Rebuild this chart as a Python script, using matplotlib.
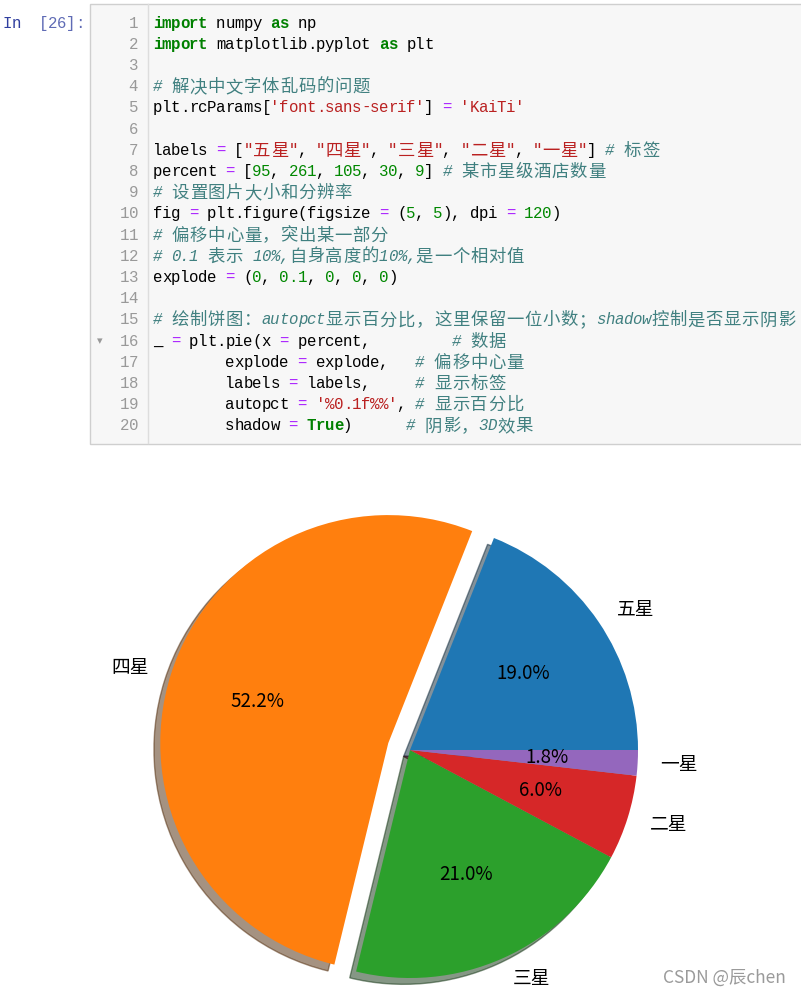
import unicodedata
import matplotlib
matplotlib.use("Agg")
import matplotlib.pyplot as plt
from matplotlib.patches import Rectangle

# ---------------- data ----------------
labels = ["五星", "四星", "三星", "二星", "一星"]
percent = [95, 261, 105, 30, 9]
explode = (0, 0.1, 0, 0, 0)

code_lines = [
    [("import", "kw"), (" numpy ", "n"), ("as", "kw"), (" np", "n")],
    [("import", "kw"), (" matplotlib.pyplot ", "n"), ("as", "kw"), (" plt", "n")],
    [],
    [("# 解决中文字体乱码的问题", "cm")],
    [("plt.rcParams[", "n"), ("'font.sans-serif'", "str"), ("] ", "n"), ("=", "op"), (" ", "n"), ("'KaiTi'", "str")],
    [],
    [("labels ", "n"), ("=", "op"), (" [", "n"), ('"五星"', "str"), (", ", "n"), ('"四星"', "str"), (", ", "n"),
     ('"三星"', "str"), (", ", "n"), ('"二星"', "str"), (", ", "n"), ('"一星"', "str"), ("] ", "n"), ("# 标签", "cm")],
    [("percent ", "n"), ("=", "op"), (" [", "n"), ("95", "num"), (", ", "n"), ("261", "num"), (", ", "n"),
     ("105", "num"), (", ", "n"), ("30", "num"), (", ", "n"), ("9", "num"), ("] ", "n"), ("# 某市星级酒店数量", "cm")],
    [("# 设置图片大小和分辨率", "cm")],
    [("fig ", "n"), ("=", "op"), (" plt.figure(figsize ", "n"), ("=", "op"), (" (", "n"), ("5", "num"), (", ", "n"),
     ("5", "num"), ("), dpi ", "n"), ("=", "op"), (" ", "n"), ("120", "num"), (")", "n")],
    [("# 偏移中心量，突出某一部分", "cm")],
    [("# 0.1 表示 10%,自身高度的10%,是一个相对值", "cm")],
    [("explode ", "n"), ("=", "op"), (" (", "n"), ("0", "num"), (", ", "n"), ("0.1", "num"), (", ", "n"),
     ("0", "num"), (", ", "n"), ("0", "num"), (", ", "n"), ("0", "num"), (")", "n")],
    [],
    [("# 绘制饼图：autopct显示百分比，这里保留一位小数；shadow控制是否显示阴影", "cm")],
    [("_ ", "n"), ("=", "op"), (" plt.pie(x ", "n"), ("=", "op"), (" percent,", "n"), ("         ", "n"), ("# 数据", "cm")],
    [("        explode ", "n"), ("=", "op"), (" explode,", "n"), ("   ", "n"), ("# 偏移中心量", "cm")],
    [("        labels ", "n"), ("=", "op"), (" labels,", "n"), ("     ", "n"), ("# 显示标签", "cm")],
    [("        autopct ", "n"), ("=", "op"), (" ", "n"), ("'%0.1f%%'", "str"), (",", "n"), (" ", "n"), ("# 显示百分比", "cm")],
    [("        shadow ", "n"), ("=", "op"), (" ", "n"), ("True", "kw"), (")", "n"), ("      ", "n"), ("# 阴影，3D效果", "cm")],
]

styles = {
    "kw": dict(color="#008000", weight="bold", style="normal"),
    "n": dict(color="#000000", weight="normal", style="normal"),
    "op": dict(color="#AA22FF", weight="normal", style="normal"),
    "str": dict(color="#BA2121", weight="normal", style="normal"),
    "num": dict(color="#008800", weight="normal", style="normal"),
    "cm": dict(color="#408080", weight="normal", style="italic"),
}

W, H = 801, 996
fig = plt.figure(figsize=(W / 100, H / 100), dpi=100)
fig.patch.set_facecolor("white")

bg = fig.add_axes([0, 0, 1, 1])
bg.set_xlim(0, W)
bg.set_ylim(H, 0)
bg.axis("off")

# code cell box
bg.add_patch(Rectangle((89.5, 3.5), 720, 440, facecolor="#f7f7f7", edgecolor="#cfcfcf", lw=1.0))
bg.plot([148, 148], [4, 443], color="#dddddd", lw=1.0)

CW = 9.05
X0 = 153
LH = 21.2
Y0 = 27.5
MONO = ["Liberation Mono"]


def is_wide(ch):
    return unicodedata.east_asian_width(ch) in ("W", "F")


def put_chars(x, yb, txt, color, weight="normal", style="normal", size=11.3):
    for ch in txt:
        wide = is_wide(ch)
        if ch != " ":
            if wide:
                bg.text(x + CW, yb + 1, ch, ha="center", family=["Noto Sans CJK SC"], fontsize=12.5,
                        color=color, weight="normal")
            else:
                bg.text(x + CW / 2, yb, ch, ha="center", family=MONO, fontsize=size,
                        color=color, weight=weight, style=style)
        x += 2 * CW if wide else CW
    return x


# prompt
put_chars(3, Y0, "In", "#303F9F")
put_chars(39, Y0, "[26]:", "#5f6bb5")

for i, toks in enumerate(code_lines):
    yb = Y0 + i * LH
    num = str(i + 1)
    put_chars(138 - CW * len(num), yb, num, "#999999")
    x = X0
    for txt, st in toks:
        s = styles[st]
        x = put_chars(x, yb, txt, s["color"], s["weight"], s["style"])

# fold marker at line 16
bg.text(97, Y0 + 15 * LH - 1, "▾", family=["DejaVu Sans"], fontsize=8, color="#999999")

# ---------------- pie ----------------
R = 228.0
CX, CY = 410.0, 750.0
top_px = 460
pax = fig.add_axes([0, 0, 1, (H - top_px) / H])
pax.pie(x=percent, explode=explode, labels=labels, autopct='%0.1f%%', shadow=True,
        textprops=dict(family=["Noto Sans CJK SC", "DejaVu Sans"], fontsize=13.5))
pax.set_aspect("auto")
pax.set_xlim(-CX / R, (W - CX) / R)
pax.set_ylim(-(H - CY) / R, (CY - top_px) / R)

# watermark
bg.text(786, 983, "CSDN @辰chen", ha="right", family=["Noto Sans CJK SC", "DejaVu Sans"],
        fontsize=12.5, color="#9a9a9a")

fig.savefig("out.png", dpi=100)
